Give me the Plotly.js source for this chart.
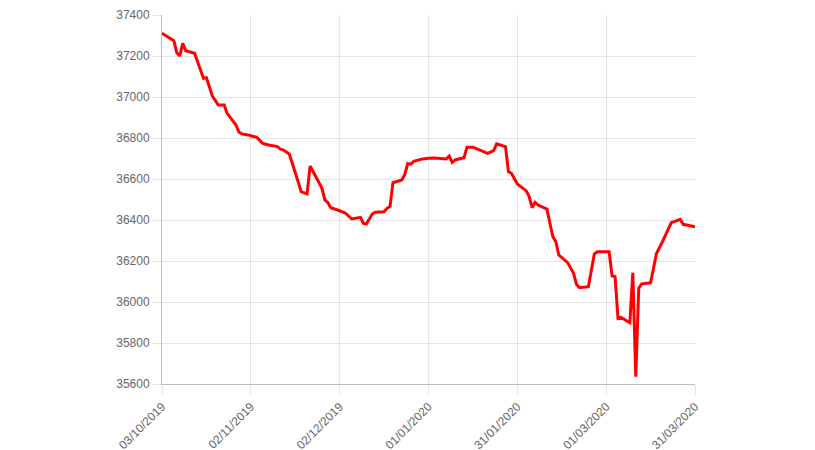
<!DOCTYPE html>
<html>
<head>
<meta charset="utf-8">
<script src="https://cdn.plot.ly/plotly-3.0.1.min.js"></script>
<style>html,body{margin:0;padding:0;background:#fff;}#chart{width:815px;height:450px;}</style>
</head>
<body>
<div id="chart"></div>
<script>
const dates = [
'2019-10-03','2019-10-07','2019-10-08','2019-10-09','2019-10-10','2019-10-11','2019-10-14','2019-10-17','2019-10-18','2019-10-20',
'2019-10-22','2019-10-24','2019-10-25','2019-10-28','2019-10-29','2019-10-30','2019-11-01','2019-11-04','2019-11-06','2019-11-08',
'2019-11-11','2019-11-12','2019-11-13','2019-11-15','2019-11-17','2019-11-19','2019-11-21','2019-11-22','2019-11-26','2019-11-27',
'2019-11-28','2019-11-29','2019-12-02','2019-12-04','2019-12-06','2019-12-09','2019-12-10','2019-12-11','2019-12-13','2019-12-14',
'2019-12-17','2019-12-18','2019-12-19','2019-12-20','2019-12-23','2019-12-24','2019-12-25','2019-12-26','2019-12-27','2019-12-30',
'2020-01-01','2020-01-03','2020-01-07','2020-01-08','2020-01-09','2020-01-10','2020-01-13','2020-01-14','2020-01-16','2020-01-21',
'2020-01-23','2020-01-24','2020-01-27','2020-01-28','2020-01-29','2020-01-31','2020-02-03','2020-02-04','2020-02-05','2020-02-06',
'2020-02-07','2020-02-10','2020-02-11','2020-02-12','2020-02-13','2020-02-14','2020-02-17','2020-02-18','2020-02-19','2020-02-20',
'2020-02-21','2020-02-24','2020-02-25','2020-02-26','2020-02-27','2020-03-02','2020-03-03','2020-03-04','2020-03-05','2020-03-06',
'2020-03-09','2020-03-10','2020-03-11','2020-03-12','2020-03-13','2020-03-16','2020-03-18','2020-03-19','2020-03-20','2020-03-23',
'2020-03-26','2020-03-27','2020-03-29','2020-03-31'
];
const values = [
37311,37275,37216,37200,37262,37226,37213,37091,37094,37005,
36961,36961,36920,36863,36828,36820,36815,36803,36774,36766,
36758,36745,36741,36722,36631,36538,36527,36663,36556,36498,
36485,36460,36445,36433,36405,36413,36384,36380,36429,36438,
36440,36457,36465,36582,36595,36622,36675,36672,36686,36698,
36701,36702,36698,36712,36681,36693,36704,36755,36755,36725,
36738,36771,36758,36636,36628,36576,36542,36514,36460,36486,
36473,36453,36384,36319,36294,36229,36192,36164,36140,36085,
36070,36075,36156,36234,36245,36245,36127,36124,35920,35925,
35899,36143,35636,36067,36088,36094,36237,36270,36294,36387,
36403,36379,36372,36367
];
const tickDates = ['2019-10-03','2019-11-02','2019-12-02','2020-01-01','2020-01-31','2020-03-01','2020-03-31'];
const tickLabels = ['03/10/2019','02/11/2019','02/12/2019','01/01/2020','31/01/2020','01/03/2020','31/03/2020'];
const yTicks = [35600,35800,36000,36200,36400,36600,36800,37000,37200,37400];

const font = {family: '"Liberation Sans", Arial, Helvetica, sans-serif', size: 12, color: '#666'};
Plotly.newPlot('chart', [{
  x: dates, y: values, type: 'scatter', mode: 'lines',
  line: {color: '#ff0000', width: 3}, hoverinfo: 'skip'
}], {
  width: 815, height: 450,
  margin: {l: 162, r: 120, t: 15, b: 66, pad: 0},
  paper_bgcolor: '#fff', plot_bgcolor: '#fff',
  showlegend: false,
  font: font,
  xaxis: {
    type: 'date', range: ['2019-10-03', '2020-03-31'],
    tickmode: 'array', tickvals: tickDates, ticktext: tickLabels,
    tickangle: -45, tickfont: font,
    showgrid: true, gridcolor: 'rgba(0,0,0,0.1)', gridwidth: 1,
    ticks: 'outside', ticklen: 10, tickcolor: 'rgba(0,0,0,0.1)', tickwidth: 1,
    showline: true, linecolor: 'rgba(0,0,0,0.25)', linewidth: 1,
    zeroline: false, fixedrange: true
  },
  yaxis: {
    range: [35600, 37400],
    tickmode: 'array', tickvals: yTicks, ticktext: yTicks.map(String),
    tickfont: font,
    showgrid: true, gridcolor: 'rgba(0,0,0,0.1)', gridwidth: 1,
    ticks: 'outside', ticklen: 9, tickcolor: 'rgba(0,0,0,0.1)', tickwidth: 1,
    showline: true, linecolor: 'rgba(0,0,0,0.25)', linewidth: 1,
    zeroline: false, fixedrange: true
  }
}, {displayModeBar: false, staticPlot: true});
</script>
</body>
</html>
